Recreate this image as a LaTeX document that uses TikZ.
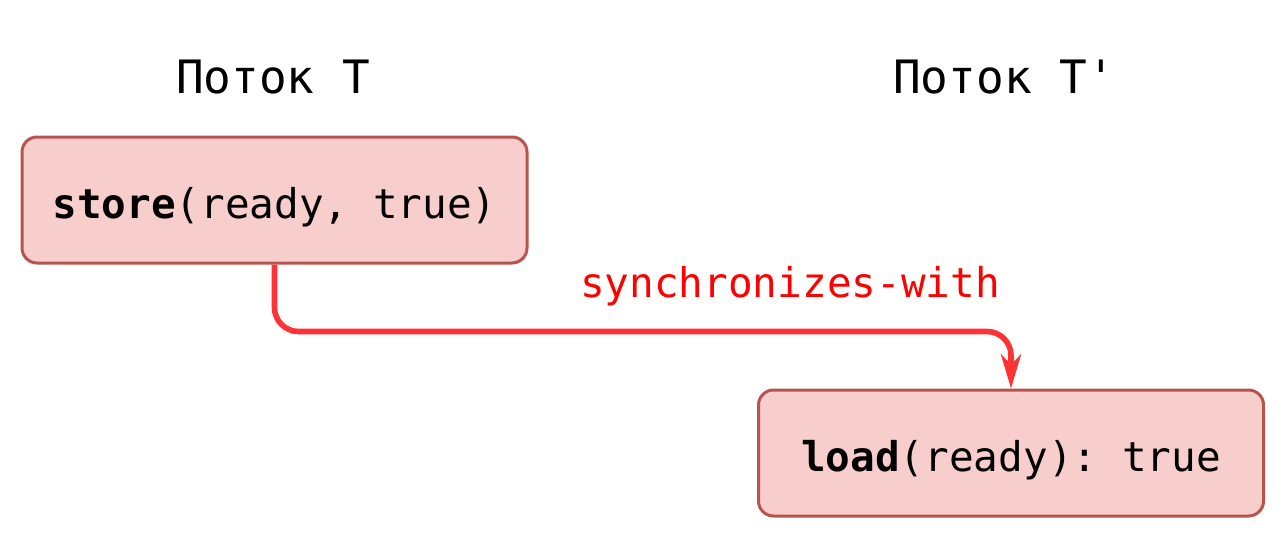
\documentclass[tikz,border=0pt]{standalone}
\usepackage{fontspec}
\setmonofont{DejaVu Sans Mono}
\usetikzlibrary{arrows.meta}
\definecolor{opFill}{HTML}{F8CECC}
\definecolor{opLine}{HTML}{B85450}
\definecolor{syncLine}{HTML}{FF3333}
\definecolor{syncText}{HTML}{FF0000}

\begin{document}
\begin{tikzpicture}[
  x=0.5pt,y=-0.5pt,
  op/.style={draw=opLine, fill=opFill, line width=1.5pt, rounded corners=7.5pt,
    minimum width=252.5pt, minimum height=63pt, inner sep=0pt,
    text height=18pt, text depth=0pt,
    font=\ttfamily\fontsize{20.5}{24}\selectfont},
  thread/.style={font=\ttfamily\fontsize{23}{28}\selectfont},
  sync/.style={-{Stealth[length=17pt, width=10pt, inset=5pt]}, draw=syncLine,
    line width=2.8pt, rounded corners=12pt},
  lbl/.style={font=\ttfamily\fontsize{20.5}{24}\selectfont, text=syncText}
]
\useasboundingbox (0,0) rectangle (1288,540);

\node[thread] (threadT) at (273,77) {Поток T};
\node[thread] (threadT2) at (1004,77) {Поток T'};

\node[op] (store) at (274.5,200) {\textbf{store}(ready, true)};
\node[op] (load) at (1011,453) {\textbf{load}(ready): true};

\node[lbl] (syncLbl) at (790,286) {synchronizes-with};

\coordinate (turn) at ([yshift=-33.5pt]store.south);
\draw[sync] (store.south) -- (turn) -| (load.north);
\end{tikzpicture}
\end{document}
